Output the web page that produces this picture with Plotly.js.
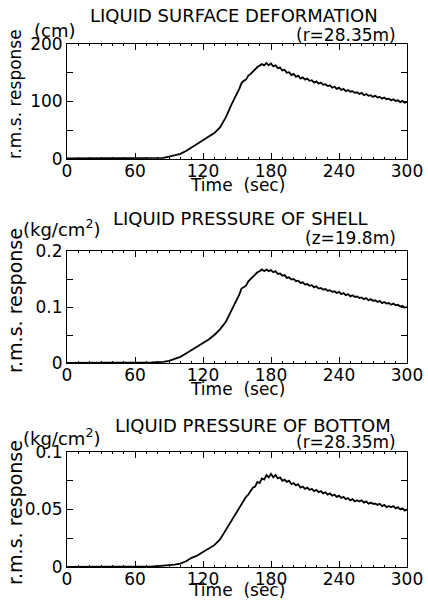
<!DOCTYPE html>
<html>
<head>
<meta charset="utf-8">
<script src="https://cdn.plot.ly/plotly-3.0.1.min.js"></script>
<style>html,body{margin:0;padding:0;background:#fff;}#chart{width:428px;height:601px;}</style>
</head>
<body>
<div id="chart"></div>
<script>
// ---- data ----
var time = [0,10,20,30,40,50,60,70,75,80,85,90,95,100,105,110,115,120,125,130,135,140,145,150,
  152,154,156,158,160,162,164,166,168,170,
  172,174,176,178,180,182,184,186,188,190,
  192,194,196,198,200,202,204,206,208,210,
  212,214,216,218,220,222,224,226,228,230,
  232,234,236,238,240,242,244,246,248,250,
  252,254,256,258,260,262,264,266,268,270,
  272,274,276,278,280,282,284,286,288,290,
  292,294,296,298,300];

var surfaceDeformation = [1,1,1,1,1,1,1.5,1.5,1.5,1.5,2,4,6,9,14,20,26,32,38,45,55,72,94,113,
  122,132,136,138,145,148,153,156,160,162,
  165,163,167,163,166,161,163,158,159,154,
  155,150,151,146,148,143,145,140,142,138,
  140,136,137,133,135,131,133,129,130,127,
  128,124,126,122,124,120,122,118,120,117,
  118,115,116,113,115,111,113,110,111,108,
  110,107,108,105,107,104,105,102,104,101,
  102,99,101,98,99];

var shellPressure = [0,0,0,0,0,0.001,0.001,0.001,0.001,0.0015,0.002,0.004,0.007,0.011,0.017,0.023,0.029,0.036,0.042,0.050,0.060,0.073,0.093,0.112,
  0.122,0.133,0.135,0.138,0.146,0.150,0.155,0.158,0.162,0.164,
  0.167,0.164,0.167,0.164,0.166,0.162,0.164,0.159,0.160,0.156,
  0.157,0.152,0.153,0.149,0.150,0.146,0.147,0.143,0.144,0.140,
  0.141,0.138,0.139,0.135,0.137,0.133,0.134,0.131,0.132,0.129,
  0.130,0.127,0.128,0.125,0.127,0.123,0.125,0.121,0.123,0.119,
  0.121,0.118,0.119,0.116,0.117,0.114,0.116,0.112,0.114,0.111,
  0.112,0.109,0.111,0.107,0.109,0.106,0.107,0.104,0.106,0.103,
  0.104,0.101,0.102,0.099,0.100];

var bottomPressure = [0,0,0,0,0,0,0,0,0.0005,0.0008,0.001,0.0015,0.002,0.003,0.005,0.008,0.010,0.013,0.016,0.019,0.024,0.032,0.040,0.048,
  0.051,0.055,0.058,0.061,0.063,0.066,0.069,0.070,0.074,0.073,
  0.077,0.076,0.080,0.078,0.081,0.078,0.080,0.077,0.078,0.075,
  0.076,0.074,0.075,0.072,0.073,0.071,0.072,0.069,0.070,0.068,
  0.069,0.067,0.068,0.066,0.067,0.065,0.066,0.064,0.065,0.063,
  0.064,0.062,0.063,0.061,0.062,0.060,0.061,0.059,0.060,0.058,
  0.059,0.057,0.058,0.057,0.058,0.056,0.057,0.055,0.056,0.055,
  0.055,0.054,0.055,0.053,0.054,0.052,0.053,0.052,0.053,0.051,
  0.052,0.050,0.051,0.049,0.050];

var xTicks = [0,60,120,180,240,300];
var yTicks1 = [0,100,200], yMinor1 = [50,150];
var yTicks2 = [0,0.1,0.2], yMinor2 = [0.05,0.15];
var yTicks3 = [0,0.05,0.1], yMinor3 = [0.025,0.075];
var yLabels3 = ['0','0.05','0.1'];

var titles = ['LIQUID SURFACE DEFORMATION','LIQUID PRESSURE OF SHELL','LIQUID PRESSURE OF BOTTOM'];
var subTitles = ['(r=28.35m)','(z=19.8m)','(r=28.35m)'];
var units = ['(cm)','(kg/cm<sup>2</sup>)','(kg/cm<sup>2</sup>)'];

// ---- layout helpers (pixel -> paper) ----
var W = 428, H = 601, L = 67, R = 21, T = 44, B = 34;
var pw = W - L - R, ph = H - T - B;
function px(x){ return (x - L) / pw; }
function py(y){ return (H - B - y) / ph; }

var FONT = 'DejaVu Sans';
var tickFont = {family: FONT, size: 17, color: '#000'};

function xAxis(anchor){
  return {anchor: anchor, range: [0,300], tickvals: xTicks, ticktext: xTicks.map(String),
    ticks: 'inside', ticklen: 6, tickwidth: 1, tickcolor: '#000', mirror: 'ticks',
    showline: true, linecolor: '#000', linewidth: 1, showgrid: false, zeroline: false,
    tickfont: tickFont, ticklabelstandoff: -3,
    minor: {dtick: 10, tick0: 0, ticks: 'inside', ticklen: 2, tickcolor: '#000', tickwidth: 1, showgrid: false}};
}
function yAxis(anchor, domain, range, tv, tm, tt){
  return {anchor: anchor, domain: domain, range: range, tickvals: tv, ticktext: tt || tv.map(String),
    ticks: 'inside', ticklen: 6, tickwidth: 1, tickcolor: '#000', mirror: 'ticks',
    showline: true, linecolor: '#000', linewidth: 1, showgrid: false, zeroline: false,
    tickfont: tickFont,
    minor: {tickvals: tm, ticks: 'inside', ticklen: 6, tickcolor: '#000', tickwidth: 1, showgrid: false}};
}

var traces = [
  {x: time, y: surfaceDeformation, xaxis: 'x', yaxis: 'y', mode: 'lines', line: {color: '#000', width: 1.8}},
  {x: time, y: shellPressure, xaxis: 'x2', yaxis: 'y2', mode: 'lines', line: {color: '#000', width: 1.8}},
  {x: time, y: bottomPressure, xaxis: 'x3', yaxis: 'y3', mode: 'lines', line: {color: '#000', width: 1.8}}
];

// plot-box pixel positions: [top, bottom]
var boxes = [[44,159],[251,363],[452,567]];
var titleY = [15, 218, 425], titleX = [234, 240, 253];
var subY = [35, 238, 442];
var unitX = [54, 61, 61], unitY = [30, 228, 437];
var yTitleY = [94, 300, 512], yTitleSize = [17, 19, 19];
var timeY = [185, 389, 590];

var ann = [];
for (var i = 0; i < 3; i++){
  var a = {xref: 'paper', yref: 'paper', showarrow: false, font: {family: FONT, size: 18, color: '#000'}};
  ann.push(Object.assign({}, a, {text: titles[i], x: px(titleX[i]), y: py(titleY[i]), xanchor: 'center', yanchor: 'middle'}));
  ann.push(Object.assign({}, a, {text: subTitles[i], x: px(398), y: py(subY[i]), xanchor: 'right', yanchor: 'middle', font: {family: FONT, size: 17, color: '#000'}}));
  ann.push(Object.assign({}, a, {text: units[i], x: px(unitX[i]), y: py(unitY[i]), xanchor: 'center', yanchor: 'middle'}));
  ann.push(Object.assign({}, a, {text: 'r.m.s. response', textangle: -90, x: px(15), y: py(yTitleY[i]), xanchor: 'center', yanchor: 'middle', font: {family: FONT, size: yTitleSize[i], color: '#000'}}));
  ann.push(Object.assign({}, a, {text: 'Time  (sec)', x: px(237), y: py(timeY[i]), xanchor: 'center', yanchor: 'middle', font: {family: FONT, size: 17, color: '#000'}}));
}

var layout = {
  width: W, height: H, margin: {l: L, r: R, t: T, b: B},
  paper_bgcolor: '#fff', plot_bgcolor: '#fff', showlegend: false,
  font: {family: FONT, color: '#000'},
  xaxis: xAxis('y'), xaxis2: xAxis('y2'), xaxis3: xAxis('y3'),
  yaxis: yAxis('x', [py(boxes[0][1]), py(boxes[0][0])], [0,200], yTicks1, yMinor1),
  yaxis2: yAxis('x2', [py(boxes[1][1]), py(boxes[1][0])], [0,0.2], yTicks2, yMinor2),
  yaxis3: yAxis('x3', [py(boxes[2][1]), py(boxes[2][0])], [0,0.1], yTicks3, yMinor3, yLabels3),
  annotations: ann
};

Plotly.newPlot('chart', traces, layout, {displayModeBar: false, staticPlot: true});
</script>
</body>
</html>
